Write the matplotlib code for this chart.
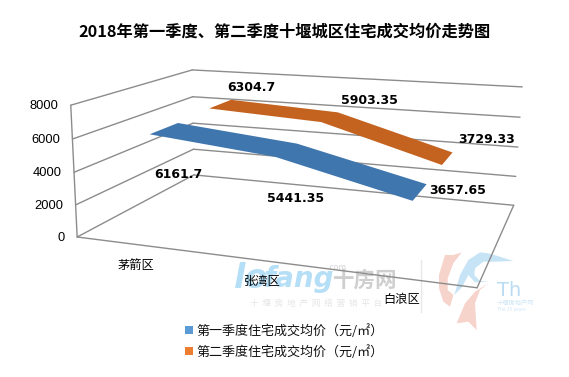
import numpy as np
import matplotlib
matplotlib.use("Agg")
import matplotlib.pyplot as plt
from matplotlib.patches import Patch, Polygon

plt.rcParams['font.family'] = ['Noto Sans CJK SC', 'DejaVu Sans']

# --- data ---
title = "2018年第一季度、第二季度十堰城区住宅成交均价走势图"
categories = ["茅箭区", "张湾区", "白浪区"]
series_names = ["第一季度住宅成交均价（元/㎡）", "第二季度住宅成交均价（元/㎡）"]
q1_values = [6161.7, 5441.35, 3657.65]
q2_values = [6304.7, 5903.35, 3729.33]
q1_labels = ["6161.7", "5441.35", "3657.65"]
q2_labels = ["6304.7", "5903.35", "3729.33"]
y_ticks = [0, 2000, 4000, 6000, 8000]

BLUE, ORANGE = "#3F76AE", "#C4621F"
LEG_BLUE, LEG_ORANGE = "#5B9BD5", "#ED7D31"
GRID = "#8C8C8C"

W, H = 569, 377
fig = plt.figure(figsize=(W/100, H/100), dpi=100)
ax = fig.add_axes([0, 0, 1, 1])
ax.set_xlim(0, W); ax.set_ylim(H, 0); ax.axis("off")

# --- 3D chart box -> image projection (u across, v up, w into page, all 0..1) ---
box3d = np.array([[0,0,0],[1,0,0],[1,0,1],[0,0,1],[0,1,0],[0,1,1],[1,1,1]], float)
box2d = np.array([[78,237],[477,288],[514,205],[193,175],[70,105],[193,70],[522,87]], float)
A = []
for (X,Y,Z),(x,y) in zip(box3d, box2d):
    A.append([X,Y,Z,1,0,0,0,0,-x*X,-x*Y,-x*Z,-x])
    A.append([0,0,0,0,X,Y,Z,1,-y*X,-y*Y,-y*Z,-y])
P = np.linalg.svd(np.array(A))[2][-1].reshape(3,4)

def proj(u, v, w):
    p = P @ np.array([u, v, w, 1.0])
    return p[0]/p[2], p[1]/p[2]

def val(y):
    return y/8000.0

def seg(a, b):
    pa, pb = proj(*a), proj(*b)
    ax.plot([pa[0], pb[0]], [pa[1], pb[1]], color=GRID, lw=1.0, zorder=2, solid_capstyle="round")

# --- watermark (drawn under everything) ---
def wm_poly(pts, color):
    pts = np.array(pts, float)
    ax.add_patch(Polygon(np.c_[425+pts[:,0]/3, 245+pts[:,1]/3], closed=True, fc=color, ec="none", zorder=1))

ax.text(234, 279, "lo", fontsize=24, fontstyle="italic", fontweight="bold", color="#B5DFF6",
        family="DejaVu Sans", va="center", ha="left", zorder=1)
ax.text(264, 279, "fang", fontsize=20, fontstyle="italic", fontweight="bold", color="#B5DFF6",
        family="DejaVu Sans", va="center", ha="left", zorder=1)
ax.text(333, 280, "十房网", fontsize=15.5, fontweight="bold", color="#CFCFCF", va="center", zorder=1)
ax.text(337, 268, ".com", fontsize=6, fontstyle="italic", color="#D5D5D5", va="center", ha="center", zorder=1)
ax.text(316, 303, "十  堰  房  地  产  网  络  营  销  平  台", fontsize=6.2, color="#E6E6E6",
        va="center", ha="center", zorder=1)
ax.plot([421, 421], [260, 312], color="#E8E8E8", lw=1, zorder=1)
wm_poly([(60,30),(85,30),(110,22),(85,55),(68,100),(68,135),(85,150),(75,185),(55,170),(42,130),(42,90)], "#F6D3CB")
wm_poly([(190,115),(165,135),(150,175),(155,255),(130,230),(95,235),(120,175),(150,140)], "#F6D3CB")
wm_poly([(88,150),(105,90),(130,45),(165,22),(190,25),(215,32),(265,48),(210,50),(175,50),(150,70),(148,90),(165,108),(195,110),
         (150,112),(130,90),(112,125)], "#C6E4F6")
ax.text(497, 290, "Th", fontsize=14, color="#B9DCF3", va="center", family="DejaVu Sans", zorder=1)
ax.text(497, 303, "十堰房地产网", fontsize=4.5, color="#CFE6F6", va="center", zorder=1)
ax.text(497, 309, "The 15 years", fontsize=3.5, color="#CFE6F6", va="center", zorder=1)

# --- walls, floor ---
for t in y_ticks:
    v = val(t)
    seg((0,v,0),(0,v,1))
    seg((0,v,1),(1,v,1))
seg((0,0,0),(0,1,0))
seg((0,0,0),(1,0,0))
seg((1,0,0),(1,0,1))

for t in y_ticks:
    x, y = proj(0, val(t), 0)
    ax.text(x-12, y+1, str(t), ha="right", va="center", fontsize=9.3, family="Liberation Sans", color="black", zorder=5)

for i, c in enumerate(categories):
    x, y = proj((i+0.5)/3, 0, 0)
    ax.text(x+1, y+21, c, ha="center", va="center", fontsize=8.8, color="black", zorder=5)

# --- ribbons ---
def ribbon(vals, w0, w1, color):
    us = [(i+0.5)/3 for i in range(len(vals))]
    front = [proj(u, val(y), w0) for u, y in zip(us, vals)]
    back = [proj(u, val(y), w1) for u, y in zip(us, vals)]
    ax.add_patch(Polygon(front + back[::-1], closed=True, fc=color, ec="none", zorder=3))
    return front, back

W_Q1 = (0.13, 0.36)
W_Q2 = (0.65, 0.88)
f1, b1 = ribbon(q1_values, *W_Q1, BLUE)
f2, b2 = ribbon(q2_values, *W_Q2, ORANGE)

for (x, y), s, (dx, dy) in zip(f1, q1_labels, [(29, 40), (21, 42), (45, -10)]):
    ax.text(x+dx, y+dy, s, ha="center", va="center", fontsize=9, fontweight="bold", family="DejaVu Sans", color="black", zorder=6)
for (x, y), s, (dx, dy) in zip(f2, q2_labels, [(42, -21), (48, -22), (45, -25)]):
    ax.text(x+dx, y+dy, s, ha="center", va="center", fontsize=9, fontweight="bold", family="DejaVu Sans", color="black", zorder=6)

ax.text(285, 32, title, ha="center", va="center", fontsize=11.7, fontweight="bold", color="black", zorder=6)

leg = ax.legend(handles=[Patch(fc=LEG_BLUE, label=series_names[0]), Patch(fc=LEG_ORANGE, label=series_names[1])],
          loc="upper left", bbox_to_anchor=(185/W, 1-324/H), frameon=False, fontsize=9.4,
          handlelength=0.6, handleheight=0.6, handletextpad=0.25, labelspacing=0.55, borderpad=0, borderaxespad=0, labelcolor="#111111")

fig.savefig("out.png", dpi=100)
